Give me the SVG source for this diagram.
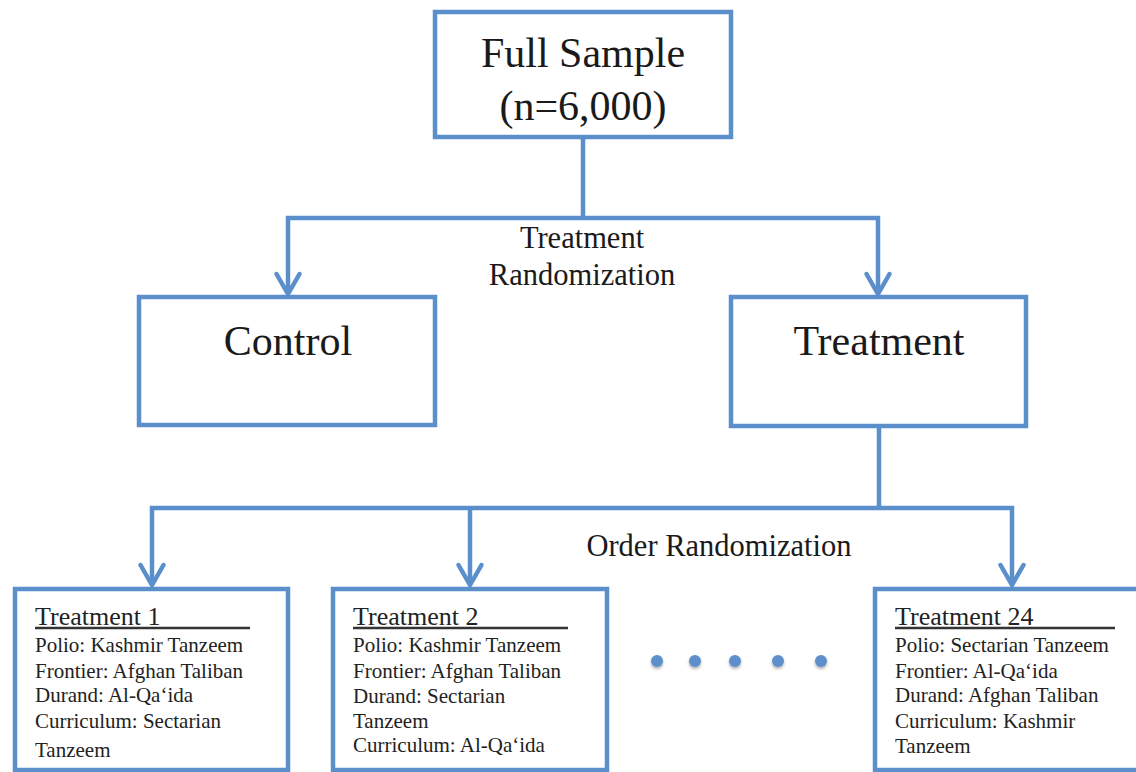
<svg xmlns="http://www.w3.org/2000/svg" width="1136" height="772" viewBox="0 0 1136 772">
<style>
.box{fill:#ffffff;stroke:#5B8FCB;stroke-width:4.5}
.con{fill:none;stroke:#5B8FCB;stroke-width:4.5}
.big{font-family:"Liberation Serif","Times New Roman",serif;font-size:42px;fill:#1a1a1a;text-anchor:middle}
.mid{font-family:"Liberation Serif","Times New Roman",serif;font-size:30.5px;fill:#1a1a1a;text-anchor:middle}
.ttl{font-family:"Liberation Serif","Times New Roman",serif;font-size:26px;fill:#222}
.body{font-family:"Liberation Serif","Times New Roman",serif;font-size:21px;fill:#222}
.ul{stroke:#333;stroke-width:2.6}
.dot{fill:#5B8FCB}
</style>
<defs>
<marker id="arr" markerUnits="userSpaceOnUse" viewBox="-26 -16 32 32" refX="0" refY="0" markerWidth="32" markerHeight="32" orient="auto-start-reverse">
<path d="M-20,-11.5 L0,0 L-20,11.5" fill="none" stroke="#5B8FCB" stroke-width="4.5" stroke-linecap="round"/>
</marker>
<filter id="sh" x="-50%" y="-50%" width="200%" height="200%">
<feDropShadow dx="0" dy="2" stdDeviation="1.5" flood-color="#000" flood-opacity="0.3"/>
</filter>
</defs>
<g id="connectors">
<path class="con" d="M583,137 V218"/>
<path class="con" d="M288,294 V218 H878 V294" marker-start="url(#arr)" marker-end="url(#arr)"/>
<path class="con" d="M879,426 V508"/>
<path class="con" d="M152,585 V508 H1012 V585" marker-start="url(#arr)" marker-end="url(#arr)"/>
<path class="con" d="M470,508 V585" marker-end="url(#arr)"/>
<text class="mid" x="582" y="248">Treatment</text>
<text class="mid" x="582" y="285">Randomization</text>
<text class="mid" x="719" y="556">Order Randomization</text>
</g>
<g id="full-sample">
<rect class="box" x="435" y="12" width="296" height="125"/>
<text class="big" x="583" y="67">Full Sample</text>
<text class="big" x="583" y="120">(n=6,000)</text>
</g>
<g id="control">
<rect class="box" x="139" y="297" width="296" height="128"/>
<text class="big" x="288" y="355">Control</text>
</g>
<g id="treatment">
<rect class="box" x="731" y="297" width="295" height="129"/>
<text class="big" x="879" y="355">Treatment</text>
</g>
<g id="treatment-1">
<rect class="box" x="15" y="589" width="273" height="181"/>
<text class="ttl" x="35" y="625">Treatment 1</text>
<line class="ul" x1="35" y1="628" x2="250" y2="628"/>
<text class="body" x="35" y="652">Polio: Kashmir Tanzeem</text>
<text class="body" x="35" y="678">Frontier: Afghan Taliban</text>
<text class="body" x="35" y="702">Durand: Al-Qa‘ida</text>
<text class="body" x="35" y="728">Curriculum: Sectarian</text>
<text class="body" x="35" y="757">Tanzeem</text>
</g>
<g id="treatment-2">
<rect class="box" x="333" y="589" width="274" height="181"/>
<text class="ttl" x="353" y="625">Treatment 2</text>
<line class="ul" x1="353" y1="628" x2="568" y2="628"/>
<text class="body" x="353" y="652">Polio: Kashmir Tanzeem</text>
<text class="body" x="353" y="678">Frontier: Afghan Taliban</text>
<text class="body" x="353" y="703">Durand: Sectarian</text>
<text class="body" x="353" y="728">Tanzeem</text>
<text class="body" x="353" y="752">Curriculum: Al-Qa‘ida</text>
</g>
<g id="ellipsis" filter="url(#sh)">
<circle class="dot" cx="657" cy="661" r="6"/>
<circle class="dot" cx="695" cy="661" r="6"/>
<circle class="dot" cx="735" cy="661" r="6"/>
<circle class="dot" cx="778" cy="661" r="6"/>
<circle class="dot" cx="821" cy="661" r="6"/>
</g>
<g id="treatment-24">
<rect class="box" x="875" y="589" width="270" height="181"/>
<text class="ttl" x="895" y="625">Treatment 24</text>
<line class="ul" x1="895" y1="628" x2="1115" y2="628"/>
<text class="body" x="895" y="652">Polio: Sectarian Tanzeem</text>
<text class="body" x="895" y="678">Frontier: Al-Qa‘ida</text>
<text class="body" x="895" y="702">Durand: Afghan Taliban</text>
<text class="body" x="895" y="728">Curriculum: Kashmir</text>
<text class="body" x="895" y="753">Tanzeem</text>
</g>
</svg>
